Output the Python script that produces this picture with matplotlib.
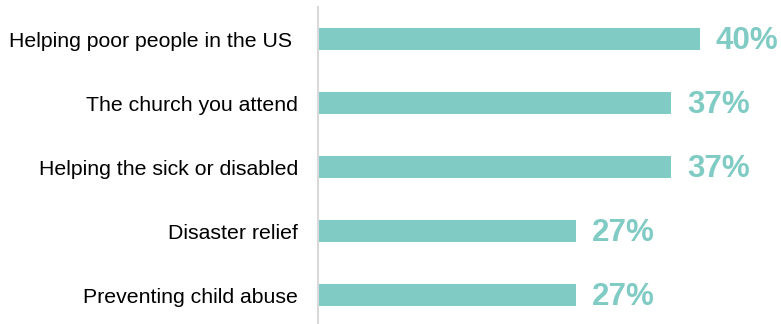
import matplotlib
matplotlib.use("Agg")
import matplotlib.pyplot as plt

categories = ["Helping poor people in the US ", "The church you attend",
              "Helping the sick or disabled", "Disaster relief", "Preventing child abuse"]
values = [40, 37, 37, 27, 27]
labels = ["40%", "37%", "37%", "27%", "27%"]

color = "#80CBC4"
plt.rcParams['font.family'] = ['Liberation Sans', 'DejaVu Sans']

fig = plt.figure(figsize=(7.81, 3.24), dpi=100)
W, H = 781, 324
ax = fig.add_axes([318 / W, 0, (W - 318) / W, (H - 7) / H])

y = list(range(len(categories)))
ax.barh(y, values, height=0.344, color=color)
for yi, v, lab in zip(y, values, labels):
    ax.text(v + 1.65, yi + 0.03, lab, va='center', ha='left', fontsize=22.6,
            fontweight='bold', color=color)

ax.set_xlim(0, (W - 318) / 9.55)
ax.set_ylim(4.45, -0.5)
ax.set_yticks(y)
ax.set_yticklabels(categories, fontsize=15.3, color="#000000")
ax.tick_params(axis='y', length=0, pad=14.4)
ax.set_xticks([])
for s in ['top', 'right', 'bottom']:
    ax.spines[s].set_visible(False)
ax.spines['left'].set_color('#D9D9D9')
ax.spines['left'].set_linewidth(1.5)

fig.savefig("out.png", dpi=100)
